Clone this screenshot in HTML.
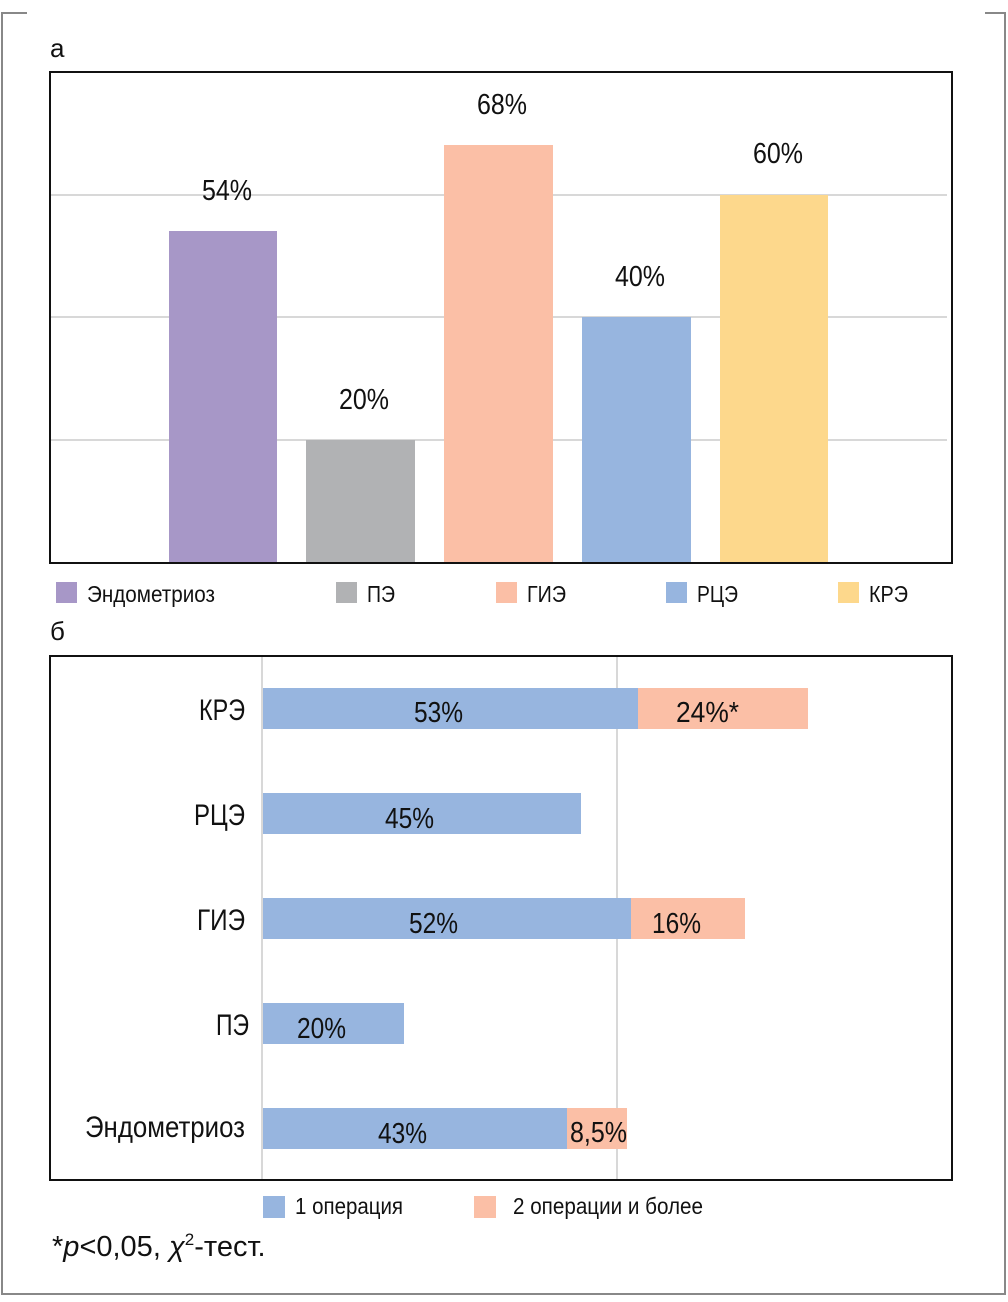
<!DOCTYPE html>
<html><head><meta charset="utf-8"><style>
body{margin:0;background:#fff}
text{font-family:"Liberation Sans Narrow","Liberation Sans",sans-serif;fill:#111}
</style></head><body>
<svg width="1008" height="1297" xmlns="http://www.w3.org/2000/svg">
<g stroke="#888" stroke-width="2" fill="none">
<path d="M27,13 H2 V1294 H1005 V13 H985"/>
</g>
<text x="50" y="57" font-size="26">а</text>
<g stroke="#ccc" stroke-width="1.5">
<line x1="50" y1="195" x2="947" y2="195"/><line x1="50" y1="317" x2="947" y2="317"/><line x1="50" y1="440" x2="947" y2="440"/>
</g>
<rect x="169" y="231" width="108" height="332" fill="#a797c7"/>
<rect x="306" y="440" width="109" height="123" fill="#b1b2b4"/>
<rect x="444" y="145" width="109" height="418" fill="#fbbfa6"/>
<rect x="582" y="317" width="109" height="246" fill="#97b5df"/>
<rect x="720" y="195" width="108" height="368" fill="#fdd88c"/>
<rect x="50" y="72" width="902" height="491" fill="none" stroke="#111" stroke-width="2"/>
<g font-size="29" text-anchor="middle" lengthAdjust="spacingAndGlyphs">
<text x="227" y="200" textLength="50" lengthAdjust="spacingAndGlyphs">54%</text>
<text x="364" y="409" textLength="50" lengthAdjust="spacingAndGlyphs">20%</text>
<text x="502" y="114" textLength="50" lengthAdjust="spacingAndGlyphs">68%</text>
<text x="640" y="286" textLength="50" lengthAdjust="spacingAndGlyphs">40%</text>
<text x="778" y="163" textLength="50" lengthAdjust="spacingAndGlyphs">60%</text>
</g>
<g font-size="23">
<rect x="56" y="582" width="21" height="21" fill="#a797c7"/><text x="87" y="602" textLength="128" lengthAdjust="spacingAndGlyphs">Эндометриоз</text>
<rect x="336" y="582" width="21" height="21" fill="#b1b2b4"/><text x="367" y="602" textLength="28" lengthAdjust="spacingAndGlyphs">ПЭ</text>
<rect x="496" y="582" width="21" height="21" fill="#fbbfa6"/><text x="527" y="602" textLength="39" lengthAdjust="spacingAndGlyphs">ГИЭ</text>
<rect x="666" y="582" width="21" height="21" fill="#97b5df"/><text x="697" y="602" textLength="41" lengthAdjust="spacingAndGlyphs">РЦЭ</text>
<rect x="838" y="582" width="21" height="21" fill="#fdd88c"/><text x="869" y="602" textLength="39" lengthAdjust="spacingAndGlyphs">КРЭ</text>
</g>
<text x="50" y="640" font-size="26">б</text>
<g stroke="#ccc" stroke-width="1.5"><line x1="262" y1="656" x2="262" y2="1180"/><line x1="617" y1="656" x2="617" y2="1180"/></g>
<g fill="#97b5df">
<rect x="263" y="688" width="375" height="41"/><rect x="263" y="793" width="318" height="41"/><rect x="263" y="898" width="368" height="41"/><rect x="263" y="1003" width="141" height="41"/><rect x="263" y="1108" width="304" height="41"/>
</g>
<g fill="#fbbfa6"><rect x="638" y="688" width="170" height="41"/><rect x="631" y="898" width="114" height="41"/><rect x="567" y="1108" width="60" height="41"/></g>
<rect x="50" y="656" width="902" height="524" fill="none" stroke="#111" stroke-width="2"/>
<g font-size="30">
<text x="199" y="720" textLength="46" lengthAdjust="spacingAndGlyphs">КРЭ</text>
<text x="194" y="825" textLength="51" lengthAdjust="spacingAndGlyphs">РЦЭ</text>
<text x="197" y="930" textLength="48" lengthAdjust="spacingAndGlyphs">ГИЭ</text>
<text x="216" y="1035" textLength="33" lengthAdjust="spacingAndGlyphs">ПЭ</text>
<text x="85" y="1137" textLength="160" lengthAdjust="spacingAndGlyphs">Эндометриоз</text>
</g>
<g font-size="29">
<text x="414" y="722" textLength="49" lengthAdjust="spacingAndGlyphs">53%</text>
<text x="676" y="722" textLength="63" lengthAdjust="spacingAndGlyphs">24%*</text>
<text x="385" y="828" textLength="49" lengthAdjust="spacingAndGlyphs">45%</text>
<text x="409" y="933" textLength="49" lengthAdjust="spacingAndGlyphs">52%</text>
<text x="652" y="933" textLength="49" lengthAdjust="spacingAndGlyphs">16%</text>
<text x="297" y="1038" textLength="49" lengthAdjust="spacingAndGlyphs">20%</text>
<text x="378" y="1143" textLength="49" lengthAdjust="spacingAndGlyphs">43%</text>
<text x="570" y="1142" textLength="57" lengthAdjust="spacingAndGlyphs">8,5%</text>
</g>
<g font-size="23">
<rect x="263" y="1196" width="22" height="22" fill="#97b5df"/><text x="295" y="1214" textLength="108" lengthAdjust="spacingAndGlyphs">1 операция</text>
<rect x="474" y="1196" width="22" height="22" fill="#fbbfa6"/><text x="513" y="1214" textLength="190" lengthAdjust="spacingAndGlyphs">2 операции и более</text>
</g>
<text x="52" y="1256" font-size="29">*<tspan font-style="italic">p</tspan>&lt;0,05, <tspan font-style="italic">χ</tspan><tspan font-size="17" dy="-11">2</tspan><tspan dy="11">-тест.</tspan></text>
</svg>
</body></html>
